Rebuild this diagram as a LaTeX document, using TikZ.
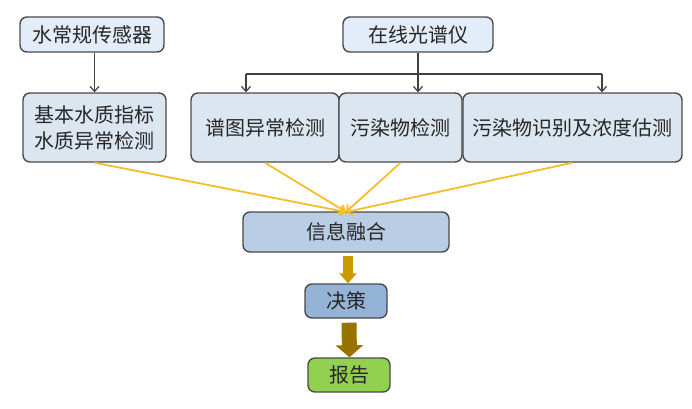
\documentclass[tikz,border=0pt]{standalone}
\usepackage{fontspec}
\newfontfamily\cjk{Noto Sans CJK SC}
\usetikzlibrary{arrows.meta}
\definecolor{topfill}{HTML}{E2EDF9}
\definecolor{midfill}{HTML}{DCE6F1}
\definecolor{fusefill}{HTML}{B9CDE5}
\definecolor{decfill}{HTML}{95B3D7}
\definecolor{repfill}{HTML}{92D050}
\definecolor{edge}{HTML}{4A4A4A}
\definecolor{yel}{HTML}{F5BE28}
\definecolor{gold1}{HTML}{C99A00}
\definecolor{gold2}{HTML}{9A7200}
\begin{document}
\begin{tikzpicture}[x=1pt,y=-1pt,
  box/.style={draw=edge, line width=1.4pt, rounded corners=7pt, inner sep=0pt,
    font=\cjk\fontsize{20}{26}\selectfont, text=black!85, align=center},
  thin/.style={draw=black!75, line width=1.2pt, -{Straight Barb[length=5pt,width=9pt]}},
  yline/.style={draw=yel, line width=1.8pt, -{Straight Barb[length=5pt,width=9pt]}},
  big1/.style={draw=gold1, line width=10pt, -{Triangle[length=10pt 0 0,width=17pt 0 0]}},
  big2/.style={draw=gold2, line width=15pt, -{Triangle[length=12pt 0 0,width=27pt 0 0]}}]
\useasboundingbox (0,0) rectangle (692,408);
\node[box, fill=topfill, minimum width=144pt, minimum height=35pt] (s1) at (92,34.5) {水常规传感器};
\node[box, fill=topfill, minimum width=150pt, minimum height=35pt] (s2) at (418,34.5) {在线光谱仪};
\node[box, fill=midfill, minimum width=143pt, minimum height=69pt] (b1) at (94.5,127.5) {基本水质指标\\水质异常检测};
\node[box, fill=midfill, minimum width=148pt, minimum height=69pt] (b2) at (265,127.5) {谱图异常检测};
\node[box, fill=midfill, minimum width=123pt, minimum height=69pt] (b3) at (400.5,127.5) {污染物检测};
\node[box, fill=midfill, minimum width=219pt, minimum height=69pt] (b4) at (572.5,127.5) {污染物识别及浓度估测};
\node[box, fill=fusefill, minimum width=206pt, minimum height=40pt] (f) at (346,232) {信息融合};
\node[box, fill=decfill, minimum width=82pt, minimum height=34pt] (d) at (346,301) {决策};
\node[box, fill=repfill, minimum width=82pt, minimum height=34pt] (r) at (349,375) {报告};
% thin connectors
\draw[thin] (s1.south -| b1.north) -- (b1.north);
\coordinate (hl) at (246,74);
\coordinate (hr) at (602,74);
\draw[draw=black!75, line width=1.2pt] (hl) -- (hr);
\draw[thin] (hl) -- (hl |- b2.north);
\draw[thin] (hr) -- (hr |- b4.north);
\draw[thin] (s2.south) -- (s2.south |- b3.north);
% yellow
\coordinate (fin) at (346,212);
\draw[yline] (b1.south) -- (fin);
\draw[yline] (b2.south) -- (fin);
\draw[yline] (b3.south) -- (fin);
\draw[yline] (b4.south) -- (fin);
% big arrows
\draw[big1] ([xshift=2pt,yshift=-3pt]f.south) -- ([xshift=2pt]d.north);
\draw[big2] ([xshift=3pt,yshift=-4pt]d.south) -- ([xshift=0.5pt]r.north);
\end{tikzpicture}
\end{document}
